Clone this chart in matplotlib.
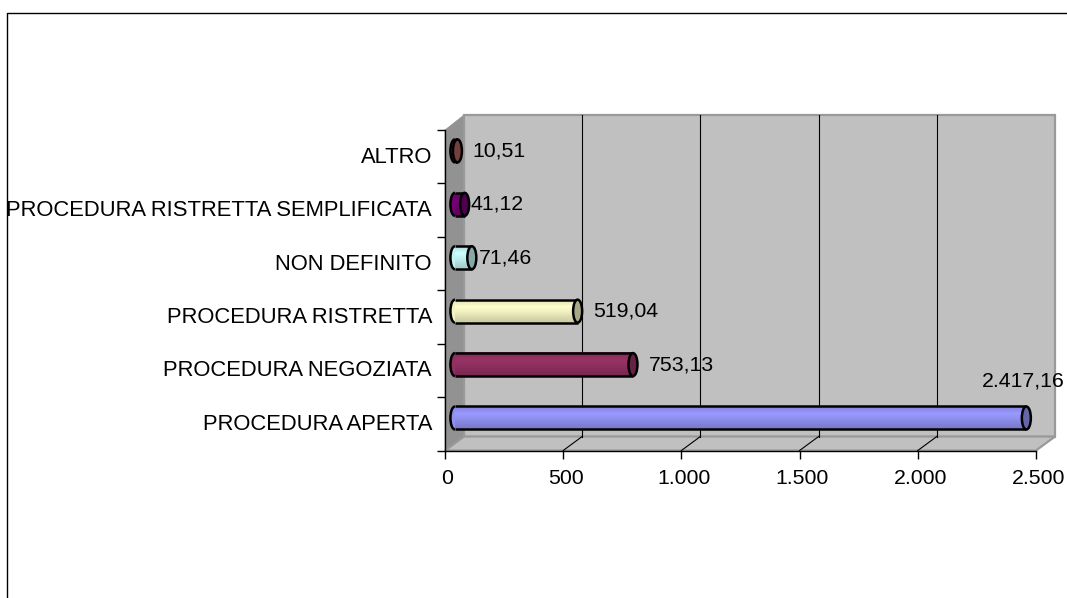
import numpy as np
import matplotlib
matplotlib.use("Agg")
import matplotlib.pyplot as plt
from matplotlib.colors import to_rgb
from matplotlib.lines import Line2D
from matplotlib.patches import Arc, Ellipse, Polygon
from matplotlib.transforms import ScaledTranslation

categories = ["PROCEDURA APERTA", "PROCEDURA NEGOZIATA", "PROCEDURA RISTRETTA",
              "NON DEFINITO", "PROCEDURA RISTRETTA SEMPLIFICATA", "ALTRO"]
values = [2417.16, 753.13, 519.04, 71.46, 41.12, 10.51]
value_labels = ["2.417,16", "753,13", "519,04", "71,46", "41,12", "10,51"]
bar_colors = ["#9999FF", "#993366", "#FFFFCC", "#CCFFFF", "#770077", "#B06060"]
x_ticks = [0, 500, 1000, 1500, 2000, 2500]
x_ticklabels = ["0", "500", "1.000", "1.500", "2.000", "2.500"]
label_offsets = [(-44, 37), (16, 0), (16, 0), (7, 0), (6, 0), (15, 0)]

W, H = 1067, 598
plt.rcParams["font.family"] = ["Liberation Sans", "DejaVu Sans"]
plt.rcParams["font.size"] = 15.3
fig = plt.figure(figsize=(W / 100, H / 100), dpi=100, facecolor="white")
L, R, B, T = 445, 1036, 450.5, 130
ax = fig.add_axes([L / W, 1 - B / H, (R - L) / W, (B - T) / H])
ax.set_xlim(0, 2500)
ax.set_ylim(0, 6)
ax.patch.set_visible(False)
px = 2500 / (R - L)
py = 6 / (B - T)

# 3D depth of the plot box
DX, DY = 19 * px, 14 * py
TOP = 6 + 15 * py
GR = "#C0C0C0"
DG = "#929292"
ax.add_patch(Polygon([(0, 0), (DX, DY), (DX, TOP), (0, 6)], fc=DG, ec=DG, lw=0.5, clip_on=False, zorder=1))
ax.add_patch(Polygon([(DX, DY), (2500 + DX, DY), (2500 + DX, TOP), (DX, TOP)], fc=GR, ec="#999999", lw=1.6, clip_on=False, zorder=1))
ax.add_patch(Polygon([(0, 0), (2500, 0), (2500 + DX, DY), (DX, DY)], fc=GR, ec="#999999", lw=1.6, clip_on=False, zorder=1.1))

# gridlines on back wall and floor
for t in x_ticks[1:-1]:
    ax.plot([t + DX, t + DX], [DY, TOP], color="black", lw=0.8, clip_on=False, zorder=2)
    ax.plot([t, t + DX], [0, DY], color="black", lw=0.8, clip_on=False, zorder=2)

# cylinders
CX = 42
CY = 5.8 * py
BH = 23 * py
EW = 9 * px
shade = np.array([0.87, 0.94, 1.0, 0.97, 0.93, 0.88, 0.83, 0.8])
ypos = np.arange(len(values)) + 0.5 + CY
for i, (y, v, c) in enumerate(zip(ypos, values, bar_colors)):
    rgb = np.array(to_rgb(c))
    ax.add_patch(Ellipse((CX, y), EW, BH, fc=rgb * 0.95, ec="none", zorder=3, clip_on=False))
    ax.add_patch(Arc((CX, y), EW, BH, theta1=90, theta2=270, ec="black", lw=1.8, zorder=3.2, clip_on=False))
    ax.barh(y, v, left=CX, height=BH, color=c, lw=0, zorder=3)
    grad = np.clip(shade[:, None] * rgb[None, :], 0, 1)[:, None, :]
    ax.imshow(grad, extent=(CX, CX + v, y - BH / 2, y + BH / 2), origin="upper",
              aspect="auto", interpolation="bilinear", zorder=3.1, alpha=0.95)
    ax.plot([CX, CX + v], [y + BH / 2, y + BH / 2], color="black", lw=1.8, zorder=3.2, solid_capstyle="butt")
    ax.plot([CX, CX + v], [y - BH / 2, y - BH / 2], color="black", lw=1.8, zorder=3.2, solid_capstyle="butt")
    ax.add_patch(Ellipse((CX + v, y), EW, BH, fc=rgb * 0.66, ec="black", lw=1.8, zorder=3.3, clip_on=False))
    off = label_offsets[i]
    ax.annotate(value_labels[i], (CX + v, y), xytext=(off[0] * 0.72, off[1] * 0.72),
                textcoords="offset points", ha="left", va="center", color="black", zorder=5,
                annotation_clip=False)
ax.set_xlim(0, 2500)
ax.set_ylim(0, 6)

# axes
for s in ("top", "right"):
    ax.spines[s].set_visible(False)
for s in ("left", "bottom"):
    ax.spines[s].set_linewidth(1)
    ax.spines[s].set_zorder(2.5)
ax.set_xticks(x_ticks)
ax.set_xticklabels(x_ticklabels)
ax.tick_params(axis="x", length=6, width=1, pad=7.4, labelsize=15.3)
for lab in ax.get_xticklabels():
    lab.set_transform(lab.get_transform() + ScaledTranslation(2.5 / 100, 0, fig.dpi_scale_trans))
ax.set_yticks(range(7))
ax.set_yticklabels([])
ax.set_yticks(np.arange(len(categories)) + 0.5, minor=True)
ax.set_yticklabels(categories, minor=True)
ax.tick_params(axis="y", which="major", length=6, width=1)
ax.tick_params(axis="y", which="minor", length=0, pad=9.4, labelsize=15.8)
for lab in ax.get_yticklabels(minor=True):
    lab.set_transform(lab.get_transform() + ScaledTranslation(0, 2 / 100, fig.dpi_scale_trans))

# outer chart frame
fig.add_artist(Line2D([6.5 / W, 6.5 / W, 1], [0, 1 - 12.5 / H, 1 - 12.5 / H], color="black", lw=1))

fig.savefig("out.png", dpi=100)
